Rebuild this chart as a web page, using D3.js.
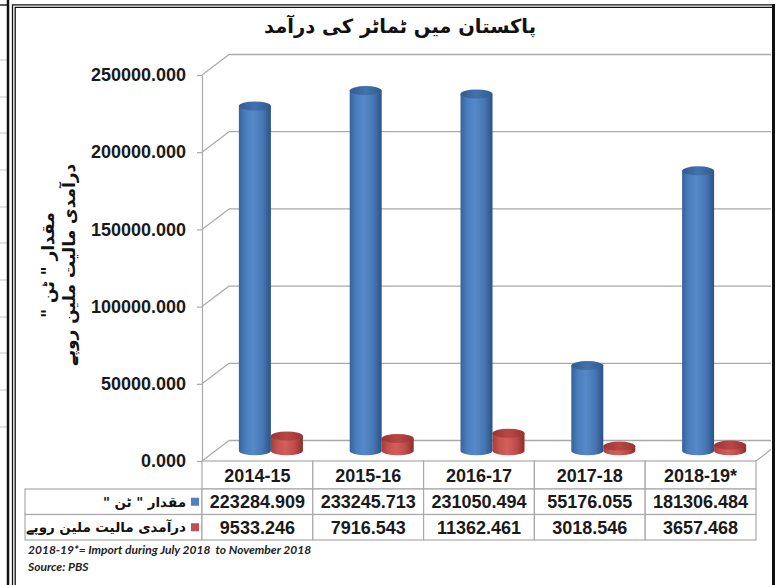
<!DOCTYPE html>
<html>
<head>
<meta charset="utf-8">
<script src="https://cdn.jsdelivr.net/npm/d3@7"></script>
<style>
  body { margin: 0; background: #fff; }
  svg { display: block; }
</style>
</head>
<body>
<div id="container"></div>
<script>
const W = 780;
const H = 585;

const categories = ["2014-15", "2015-16", "2016-17", "2017-18", "2018-19*"];
const quantity = [223284.909, 233245.713, 231050.494, 55176.055, 181306.484];
const importValue = [9533.246, 7916.543, 11362.461, 3018.546, 3657.468];
const yTicks = [0, 50000, 100000, 150000, 200000, 250000];

const title = "پاکستان میں ٹماٹر کی درآمد";
const axisTitle = ['مقدار " ٹن "', "درآمدی مالیت ملین روپے"];
// legend words in reading order (right to left on screen)
const legendWords = [["مقدار", '"', "ٹن", '"'], ["درآمدی", "مالیت", "ملین", "روپے"]];
const footnotes = ["2018-19*= Import during July 2018  to November 2018", "Source: PBS"];

const URDU = "'DejaVu Sans', sans-serif";
const NUM = "'Liberation Sans', Arial, sans-serif";

// plot geometry (front plane + 3d depth offset)
const X0 = 202, X1 = 756;
const DX = 27, DY = -20.5;
const GRID = "#a9a9a9";

const svg = d3
  .select("#container")
  .append("svg")
  .attr("width", W)
  .attr("height", H);

const defs = svg.append("defs");

function cylGradient(id, stops) {
  const g = defs
    .append("linearGradient")
    .attr("id", id)
    .attr("x1", "0%")
    .attr("x2", "100%")
    .attr("y1", "0%")
    .attr("y2", "0%");
  stops.forEach(s => g.append("stop").attr("offset", s[0]).attr("stop-color", s[1]));
}
cylGradient("blueBody", [["0%", "#35639c"], ["20%", "#4a7dbd"], ["45%", "#5689c9"], ["75%", "#4676b3"], ["100%", "#2b5285"]]);
cylGradient("redBody", [["0%", "#a63c39"], ["20%", "#c4524f"], ["45%", "#d35f5b"], ["75%", "#bd4c48"], ["100%", "#8e2d2a"]]);
cylGradient("blueTop", [["0%", "#2f5b92"], ["50%", "#4372ad"], ["100%", "#2f5b92"]]);
cylGradient("redTop", [["0%", "#9a3532"], ["50%", "#b84744"], ["100%", "#9a3532"]]);

defs
  .append("clipPath")
  .attr("id", "frameClip")
  .append("rect")
  .attr("x", 16)
  .attr("y", 8)
  .attr("width", 755)
  .attr("height", 577);

// ---- page frame ----
const frame = svg.append("g");
[60, 97, 133, 170, 207, 243, 280, 317, 353, 390, 427].forEach(yy => {
  frame.append("line").attr("x1", 0).attr("x2", 7).attr("y1", yy).attr("y2", yy)
    .attr("stroke", "#c4c4c4").attr("stroke-width", 1);
});
frame.append("line").attr("x1", 0).attr("x2", 8).attr("y1", 5).attr("y2", 5).attr("stroke", "#222").attr("stroke-width", 1.5);
frame.append("line").attr("x1", 8).attr("x2", 8).attr("y1", 0).attr("y2", H).attr("stroke", "#111").attr("stroke-width", 2.5);
frame.append("path").attr("d", `M12.5,${H} V4.8 H775`).attr("fill", "none").attr("stroke", "#111").attr("stroke-width", 1.3);
frame.append("path").attr("d", `M15.2,${H} V7.4 H772`).attr("fill", "none").attr("stroke", "#111").attr("stroke-width", 1.3);
frame.append("line").attr("x1", 773.5).attr("x2", 773.5).attr("y1", 4).attr("y2", H).attr("stroke", "#111").attr("stroke-width", 3);

// ---- title ----
svg
  .append("text")
  .attr("x", 400)
  .attr("y", 33)
  .attr("text-anchor", "middle")
  .attr("direction", "rtl")
  .style("font-family", URDU)
  .style("font-size", "19.5px")
  .style("font-weight", "bold")
  .attr("fill", "#111")
  .text(title);

// ---- scales ----
const x = d3.scaleBand().domain(categories).range([X0, X1]);
const y = d3.scaleLinear().domain([0, 250000]).range([461, 75]);
const bw = x.bandwidth();

const plot = svg.append("g").attr("clip-path", "url(#frameClip)");

// back wall gridlines
plot
  .selectAll(".grid")
  .data(yTicks)
  .enter()
  .append("line")
  .attr("class", "grid")
  .attr("x1", X0 + DX)
  .attr("x2", 772)
  .attr("y1", d => y(d) + DY)
  .attr("y2", d => y(d) + DY)
  .attr("stroke", GRID)
  .attr("stroke-width", 1.3);

// side wall gridlines
plot
  .selectAll(".side")
  .data(yTicks)
  .enter()
  .append("line")
  .attr("class", "side")
  .attr("x1", X0)
  .attr("x2", X0 + DX)
  .attr("y1", d => y(d))
  .attr("y2", d => y(d) + DY)
  .attr("stroke", GRID)
  .attr("stroke-width", 1.2);

// floor right edge
plot
  .append("line")
  .attr("x1", X1)
  .attr("y1", y(0))
  .attr("x2", X1 + DX)
  .attr("y2", y(0) + DY)
  .attr("stroke", GRID)
  .attr("stroke-width", 1.2);

// y axis
const yAxis = d3
  .axisLeft(y)
  .tickValues(yTicks)
  .tickFormat(d3.format(".3f"))
  .tickSize(5)
  .tickSizeOuter(0)
  .tickPadding(11);

const yg = svg.append("g").attr("transform", `translate(${X0},0)`).call(yAxis);
yg.select(".domain").attr("stroke", GRID).attr("stroke-width", 1.2);
yg.selectAll(".tick line").attr("stroke", GRID).attr("stroke-width", 1.2);
yg.selectAll(".tick text")
  .style("font-family", NUM)
  .style("font-size", "18px")
  .style("font-weight", "bold")
  .attr("fill", "#1a1a1a");

// axis title
const at = svg
  .append("text")
  .attr("transform", "translate(54,265) rotate(-90)")
  .attr("text-anchor", "middle")
  .attr("direction", "rtl")
  .style("font-family", URDU)
  .style("font-size", "17px")
  .style("font-weight", "bold")
  .attr("fill", "#111");
at.append("tspan").attr("x", 0).attr("dy", 0).text(axisTitle[0]);
at.append("tspan").attr("x", 0).attr("dy", 21).text(axisTitle[1]);

// ---- cylinders ----
const RX = 16, RY = 4.5;
const series = [
  { values: quantity, body: "url(#blueBody)", top: "url(#blueTop)", offset: -RX },
  { values: importValue, body: "url(#redBody)", top: "url(#redTop)", offset: RX }
];

function cylPath(cx, yTop, yBase) {
  return `M${cx - RX},${yTop} L${cx - RX},${yBase} A${RX},${RY} 0 0 0 ${cx + RX},${yBase} L${cx + RX},${yTop} Z`;
}

categories.forEach((c, i) => {
  series.forEach(s => {
    const cx = x(c) + bw / 2 + DX / 2 + s.offset;
    const yBase = y(0) + DY / 2;
    const yTop = y(s.values[i]) + DY / 2;
    plot.append("path").attr("d", cylPath(cx, yTop, yBase)).attr("fill", s.body);
    plot
      .append("ellipse")
      .attr("cx", cx)
      .attr("cy", yTop)
      .attr("rx", RX)
      .attr("ry", RY)
      .attr("fill", s.top);
  });
});

// ---- data table ----
const TBL_TOP = y(0);
const HEAD_H = 28;
const ROW_H = 25.5;
const LEG_X = 25;
const fmt = d3.format(".3f");
const table = svg.append("g");

table
  .selectAll(".head")
  .data(categories)
  .enter()
  .append("rect")
  .attr("x", d => x(d))
  .attr("y", TBL_TOP)
  .attr("width", bw)
  .attr("height", HEAD_H)
  .attr("fill", "#fff")
  .attr("stroke", GRID)
  .attr("stroke-width", 1.2);

table
  .selectAll(".headText")
  .data(categories)
  .enter()
  .append("text")
  .attr("x", d => x(d) + bw / 2)
  .attr("y", TBL_TOP + HEAD_H / 2 + 6.5)
  .attr("text-anchor", "middle")
  .style("font-family", NUM)
  .style("font-size", "18px")
  .style("font-weight", "bold")
  .attr("fill", "#1a1a1a")
  .text(d => d);

[quantity, importValue].forEach((vals, r) => {
  const ry = TBL_TOP + HEAD_H + r * ROW_H;
  table
    .append("rect")
    .attr("x", LEG_X)
    .attr("y", ry)
    .attr("width", X0 - LEG_X)
    .attr("height", ROW_H)
    .attr("fill", "#fff")
    .attr("stroke", GRID)
    .attr("stroke-width", 1.2);
  table
    .append("rect")
    .attr("x", X0 - 11)
    .attr("y", ry + ROW_H / 2 - 4)
    .attr("width", 8)
    .attr("height", 8)
    .attr("fill", r === 0 ? "#4f81bd" : "#c0504d");

  // words placed one by one, starting next to the marker and going left
  let cursor = X0 - 16;
  legendWords[r].forEach(w => {
    const t = table
      .append("text")
      .attr("x", cursor)
      .attr("y", ry + ROW_H / 2 + 5)
      .attr("text-anchor", "end")
      .style("font-family", URDU)
      .style("font-size", "13.5px")
      .style("font-weight", "bold")
      .attr("fill", "#111")
      .text(w);
    cursor -= t.node().getComputedTextLength() + 4.5;
  });

  table
    .selectAll(".cell" + r)
    .data(vals)
    .enter()
    .append("rect")
    .attr("x", (d, i) => x(categories[i]))
    .attr("y", ry)
    .attr("width", bw)
    .attr("height", ROW_H)
    .attr("fill", "#fff")
    .attr("stroke", GRID)
    .attr("stroke-width", 1.2);

  table
    .selectAll(".cellText" + r)
    .data(vals)
    .enter()
    .append("text")
    .attr("x", (d, i) => x(categories[i]) + bw / 2)
    .attr("y", ry + ROW_H / 2 + 6.5)
    .attr("text-anchor", "middle")
    .style("font-family", NUM)
    .style("font-size", "18px")
    .style("font-weight", "bold")
    .attr("fill", "#1a1a1a")
    .text(d => fmt(d));
});

// footnotes
svg
  .selectAll(".foot")
  .data(footnotes)
  .enter()
  .append("text")
  .attr("x", 28)
  .attr("y", (d, i) => 554 + i * 16.5)
  .style("font-family", "Lato, 'Open Sans', sans-serif")
  .style("font-size", "12px")
  .style("font-style", "italic")
  .style("font-weight", "bold")
  .attr("fill", "#222")
  .attr("xml:space", "preserve")
  .text(d => d);
</script>
</body>
</html>
